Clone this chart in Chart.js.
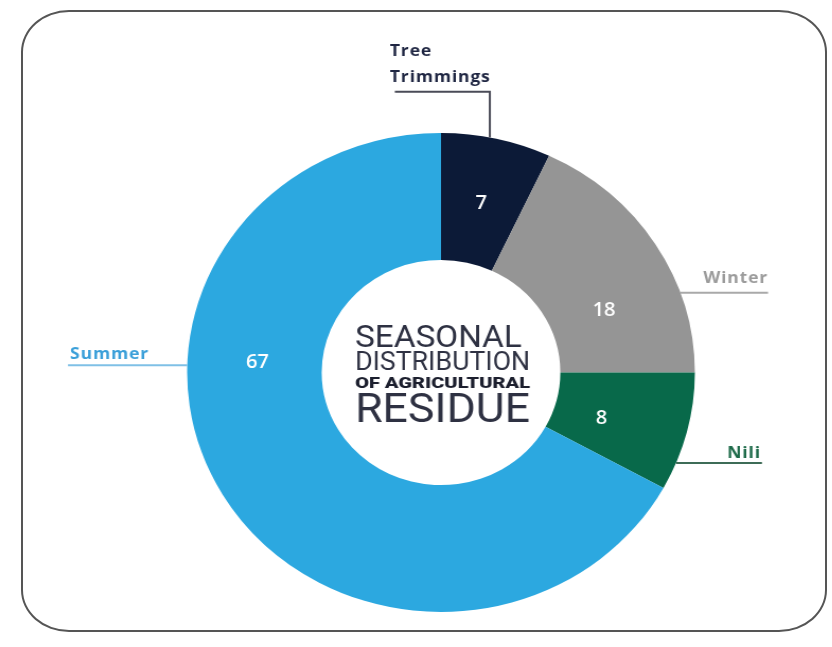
<!DOCTYPE html>
<html>
<head>
<meta charset="utf-8">
<script src="https://cdn.jsdelivr.net/npm/chart.js@4/dist/chart.umd.min.js"></script>
<style>
  html, body { margin: 0; padding: 0; background: #fff; }
  body { width: 832px; height: 647px; position: relative; overflow: hidden; }
  .frame {
    position: absolute; left: 21px; top: 10px; width: 806px; height: 622px;
    box-sizing: border-box; border: 2px solid #555; border-radius: 48px / 42px;
  }
  /* the source picture is stretched a little sideways, so is the chart */
  .wrap {
    position: absolute; left: 0; top: 0; width: 832px; height: 647px;
    transform: scaleX(1.06); transform-origin: 441px 0;
  }
</style>
</head>
<body>
<div class="frame"></div>
<div class="wrap"><canvas id="donut"></canvas></div>
<script>
// data
const categories = ["Tree Trimmings", "Winter", "Nili", "Summer"];
const values = [7, 18, 8, 67];
const labelLines = [["Tree", "Trimmings"], ["Winter"], ["Nili"], ["Summer"]];
const centerTitle = ["SEASONAL", "DISTRIBUTION", "OF AGRICULTURAL", "RESIDUE"];

// colours
const sliceColors = ["#0c1a37", "#959595", "#08694a", "#2ca8e0"];
const labelColors = ["#1f2642", "#9b9b9b", "#1d6a49", "#3a9fd9"];
const lineColors = ["#4a4b57", "#a9a9a9", "#3e6c57", "#7fc0e6"];

// where the numbers sit inside each slice (t = along the arc, r = across the ring)
const valuePos = [
  { t: 0.50, r: 0.48 },
  { t: 0.66, r: 0.42 },
  { t: 0.59, r: 0.36 },
  { t: 0.64, r: 0.48 },
];

// callouts: start on the outer edge, then follow path
const callouts = [
  { t: 0.44, path: [[0, -45.8], [-89.6, 0]], dx: -4.7, dy: -10, align: "left" },
  { t: 0.70, path: [[82.7, 0]], dx: 0, dy: -9.4, align: "right" },
  { t: 0.77, path: [[81, 0]], dx: -1, dy: -5, align: "right" },
  { t: 0.634, path: [[-112.5, 0]], dx: 2, dy: -6, align: "left" },
];

// centre title lines
const titleStyle = [
  { font: "400 30.5px Roboto, 'Liberation Sans', sans-serif", dy: -25.8, w: 157.3, color: "#2e3142" },
  { font: "400 25.8px Roboto, 'Liberation Sans', sans-serif", dy: -2.5, w: 165.1, color: "#2e3142" },
  { font: "900 14px Roboto, 'Liberation Sans', sans-serif", dy: 15.8, w: 165.1, color: "#1c1f2e" },
  { font: "400 40px Roboto, 'Liberation Sans', sans-serif", dy: 49.2, w: 165.1, color: "#2e3142" },
];

const donutText = {
  id: "donutText",
  afterDraw(chart) {
    const ctx = chart.ctx;
    const meta = chart.getDatasetMeta(0);

    meta.data.forEach((arc, i) => {
      const p = arc.getProps(["x", "y", "startAngle", "endAngle", "innerRadius", "outerRadius"], true);

      // value inside the slice
      const a = p.startAngle + (p.endAngle - p.startAngle) * valuePos[i].t;
      const r = p.innerRadius + (p.outerRadius - p.innerRadius) * valuePos[i].r;
      ctx.save();
      ctx.fillStyle = "#ffffff";
      ctx.font = "600 19px 'Open Sans', sans-serif";
      ctx.textAlign = "center";
      ctx.textBaseline = "middle";
      ctx.fillText(String(values[i]), p.x + Math.cos(a) * r, p.y + Math.sin(a) * r);
      ctx.restore();

      // callout line + category name
      const c = callouts[i];
      const b = p.startAngle + (p.endAngle - p.startAngle) * c.t;
      let x = p.x + Math.cos(b) * p.outerRadius;
      let y = p.y + Math.sin(b) * p.outerRadius;
      ctx.save();
      ctx.strokeStyle = lineColors[i];
      ctx.lineWidth = 2;
      ctx.beginPath();
      ctx.moveTo(x, y);
      c.path.forEach(([sx, sy]) => {
        x += sx; y += sy;
        ctx.lineTo(x, y);
      });
      ctx.stroke();

      ctx.fillStyle = labelColors[i];
      ctx.font = "700 16.5px 'Open Sans', sans-serif";
      ctx.letterSpacing = "0.8px";
      ctx.textAlign = c.align;
      ctx.textBaseline = "alphabetic";
      const lines = labelLines[i];
      lines.forEach((txt, k) => {
        const up = (lines.length - 1 - k) * 26;
        ctx.fillText(txt, x + c.dx, y + c.dy - up);
      });
      ctx.restore();
    });

    // centre title, each line fitted to its width
    const p0 = meta.data[0].getProps(["x", "y"], true);
    const left = p0.x - 81.1;
    centerTitle.forEach((txt, i) => {
      const s = titleStyle[i];
      ctx.save();
      ctx.font = s.font;
      ctx.fillStyle = s.color;
      ctx.textAlign = "left";
      ctx.textBaseline = "alphabetic";
      const w = ctx.measureText(txt).width;
      ctx.translate(left, p0.y + s.dy);
      ctx.scale(s.w / w, 1);
      ctx.fillText(txt, 0, 0);
      ctx.restore();
    });
  },
};

new Chart(document.getElementById("donut"), {
  type: "doughnut",
  data: {
    labels: categories,
    datasets: [{
      data: values,
      backgroundColor: sliceColors,
      borderWidth: 0,
      hoverOffset: 0,
    }],
  },
  options: {
    responsive: true,
    maintainAspectRatio: false,
    animation: false,
    events: [],
    cutout: "47%",
    layout: { padding: { left: 201.5, right: 151.5, top: 133, bottom: 35 } },
    plugins: {
      legend: { display: false },
      tooltip: { enabled: false },
    },
  },
  plugins: [donutText],
});
</script>
</body>
</html>
